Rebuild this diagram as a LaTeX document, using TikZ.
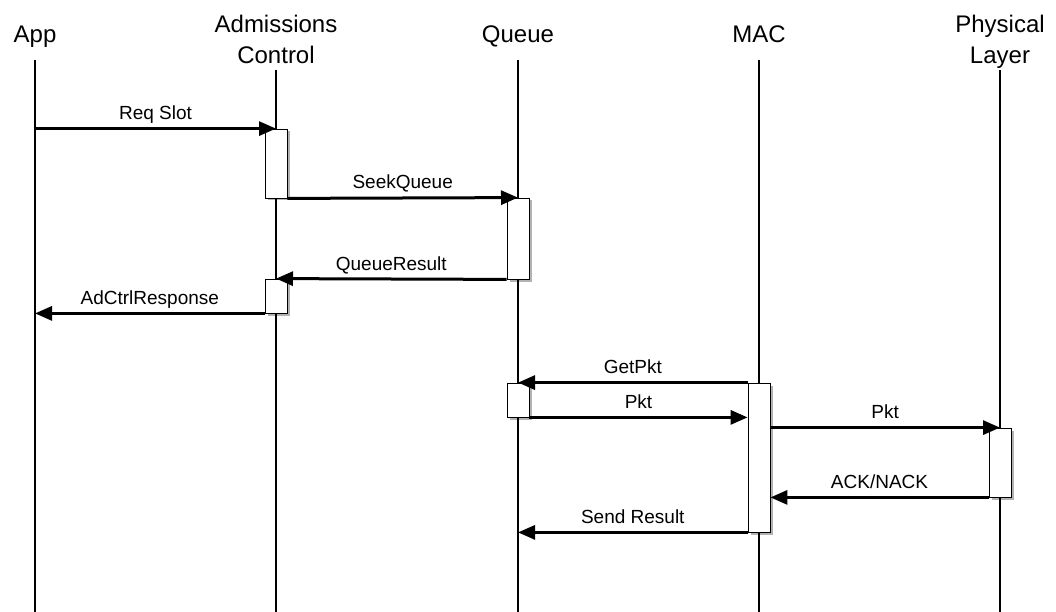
\documentclass[tikz,border=0pt]{standalone}
\usepackage{fontspec}
\setmainfont{Liberation Sans}
\usetikzlibrary{arrows.meta,shadows}
\begin{document}
\begin{tikzpicture}[x=1pt,y=-1pt,
  title/.style={font=\fontsize{24}{31}\selectfont, inner sep=0pt, align=center},
  life/.style={line width=2.5pt},
  act/.style={draw=black, line width=0.8pt, fill=white, minimum width=22pt, inner sep=0pt,
    drop shadow={shadow xshift=2.5pt, shadow yshift=-2.5pt, fill=black, opacity=0.3}},
  msg/.style={line width=3pt, -{Triangle[length=17pt,width=14pt]}},
  lbl/.style={font=\fontsize{19}{23}\selectfont, anchor=base, yshift=9pt, inner sep=0pt}]
\fill[white] (0,0) rectangle (1056,612);
\useasboundingbox (0,0) rectangle (1056,612);

% titles
\node[title, anchor=base] (tApp) at (35,43) {App};
\node[title, anchor=north] (tAdm) at (276,14.5) {Admissions\\Control};
\node[title, anchor=base] (tQ) at (518,43) {Queue};
\node[title, anchor=base] (tMAC) at (759,43) {MAC};
\node[title, anchor=north] (tPhy) at (1000,14.5) {Physical\\Layer};

% lifelines
\coordinate (appT) at (35,60);   \coordinate (appB) at (35,612);
\coordinate (admT) at (276,70);  \coordinate (admB) at (276,612);
\coordinate (qT) at (518,60);    \coordinate (qB) at (518,612);
\coordinate (macT) at (759,60);  \coordinate (macB) at (759,612);
\coordinate (phyT) at (1000,70); \coordinate (phyB) at (1000,612);
\draw[life] (appT) -- (appB);
\draw[life] (admT) -- (admB);
\draw[life] (qT) -- (qB);
\draw[life] (macT) -- (macB);
\draw[life] (phyT) -- (phyB);

% activation boxes
\node[act, minimum height=69pt] (b1) at (276,163.5) {};
\node[act, minimum height=34pt] (b2) at (276,296) {};
\node[act, minimum height=81pt] (b3) at (518,238.5) {};
\node[act, minimum height=34pt] (b4) at (518,400) {};
\node[act, minimum height=149pt] (b5) at (759,457.5) {};
\node[act, minimum height=69pt] (b6) at (1000,462.5) {};

% messages
\draw[msg] (b1.north -| appT) -- node[lbl] {Req Slot} (b1.north);
\draw[msg] (b1.south east) -- node[lbl] {SeekQueue} (b3.north);
\draw[msg] (b3.south west) -- node[lbl] {QueueResult} (b2.north);
\draw[msg] (b2.south west) -- node[lbl] {AdCtrlResponse} (b2.south west -| appT);
\draw[msg] (b5.north west) -- node[lbl] {GetPkt} (b4.north);
\draw[msg] (b4.south east) -- node[lbl] {Pkt} (b4.south east -| b5.west);
\draw[msg] (b6.north -| b5.east) -- node[lbl] {Pkt} (b6.north);
\draw[msg] (b6.south west) -- node[lbl] {ACK/NACK} (b6.south west -| b5.east);
\draw[msg] (b5.south west) -- node[lbl] {Send Result} (b5.south west -| qT);
\end{tikzpicture}
\end{document}
